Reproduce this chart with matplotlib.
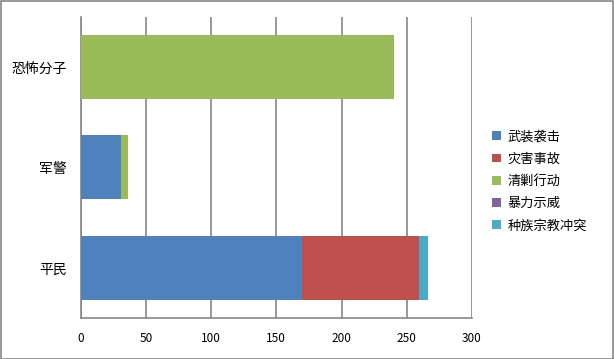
import matplotlib
matplotlib.use("Agg")
import matplotlib.pyplot as plt
from matplotlib.patches import Rectangle
import numpy as np

plt.rcParams['font.family'] = ['Noto Sans CJK SC', 'DejaVu Sans']

categories = ["平民", "军警", "恐怖分子"]
series_names = ["武装袭击", "灾害事故", "清剿行动", "暴力示威", "种族宗教冲突"]
series_colors = ["#4F81BD", "#C0504D", "#9BBB59", "#8064A2", "#4BACC6"]
values = {
    "武装袭击": [170, 31, 0],
    "灾害事故": [89, 0, 0],
    "清剿行动": [0, 5, 240],
    "暴力示威": [0, 0, 0],
    "种族宗教冲突": [7, 0, 0],
}
x_ticks = [0, 50, 100, 150, 200, 250, 300]

fig = plt.figure(figsize=(6.14, 3.59), dpi=100)
ax = fig.add_axes([80.7 / 614, 41 / 359, (472 - 80.7) / 614, (318 - 16.7) / 359])

y = np.arange(len(categories))
left = np.zeros(len(categories))
for name, color in zip(series_names, series_colors):
    v = np.array(values[name], dtype=float)
    ax.barh(y, v, left=left, height=0.64, color=color, label=name, zorder=3)
    left += v

ax.set_xlim(0, 300)
ax.set_ylim(-0.5, len(categories) - 0.5)
ax.set_xticks(x_ticks)
ax.set_xticklabels([str(t) for t in x_ticks], fontsize=8.5)
ax.set_yticks(y)
ax.set_yticklabels(categories, fontsize=10)
ax.tick_params(axis="both", length=0)
ax.tick_params(axis="x", pad=10)
ax.tick_params(axis="y", pad=10)
ax.grid(axis="x", color="#868686", linewidth=1.2, zorder=0)
for s in ["top", "right"]:
    ax.spines[s].set_visible(False)
for s in ["left", "bottom"]:
    ax.spines[s].set_color("#868686")
    ax.spines[s].set_linewidth(1.2)

leg = ax.legend(loc="center left", bbox_to_anchor=(492 / 614, 0.495), bbox_transform=fig.transFigure,
                frameon=False, fontsize=9.5, handlelength=0.65, handleheight=0.65,
                handletextpad=0.55, labelspacing=0.7, borderaxespad=0, borderpad=0)

fig.patches.append(Rectangle((0.5 / 614, 0.5 / 359), 612.5 / 614, 357.5 / 359, transform=fig.transFigure,
                             fill=False, edgecolor="#868686", linewidth=1.2))

fig.savefig("out.png", dpi=100)
